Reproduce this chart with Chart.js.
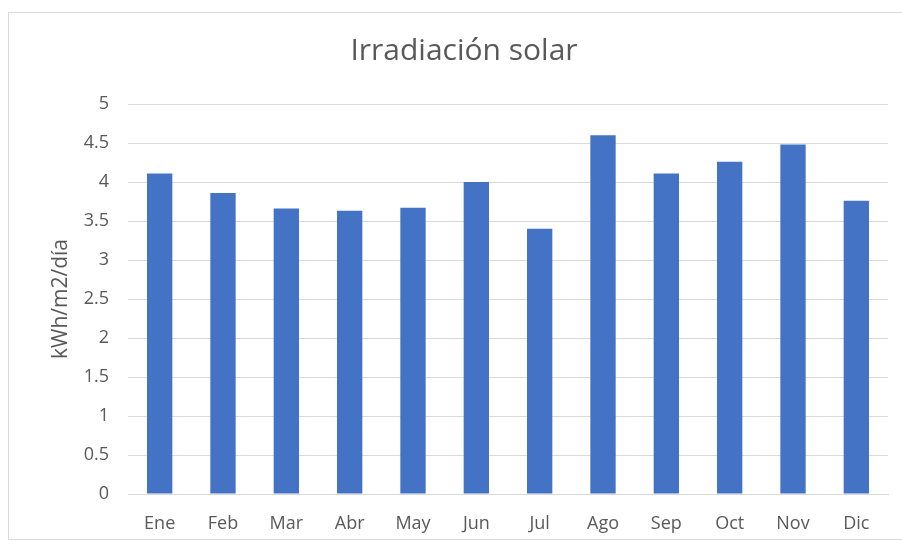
<!DOCTYPE html>
<html>
<head>
<meta charset="utf-8">
<script src="https://cdn.jsdelivr.net/npm/chart.js@4"></script>
<style>
  html, body { margin: 0; padding: 0; background: #fff; }
  #wrap { position: relative; width: 902px; height: 548px; }
  #frame { position: absolute; left: 8px; top: 12px; width: 900px; height: 528px; border: 1px solid #d9d9d9; box-sizing: border-box; }
  canvas { position: absolute; left: 0; top: 0; }
</style>
</head>
<body>
<div id="wrap">
  <div id="frame"></div>
  <canvas id="chart" width="902" height="548"></canvas>
</div>
<script>
// Irradiación solar mensual
const months = ['Ene', 'Feb', 'Mar', 'Abr', 'May', 'Jun', 'Jul', 'Ago', 'Sep', 'Oct', 'Nov', 'Dic'];
const irradiation = [4.11, 3.86, 3.66, 3.63, 3.67, 4.0, 3.4, 4.6, 4.11, 4.26, 4.48, 3.76];

Chart.defaults.font.family = "'Segoe UI', 'Open Sans', 'Noto Sans', sans-serif";
Chart.defaults.color = '#595959';

const ctx = document.getElementById('chart');
new Chart(ctx, {
    type: 'bar',
    data: {
        labels: months,
        datasets: [{
            label: 'Irradiación',
            data: irradiation,
            backgroundColor: '#4472C4',
            barPercentage: 0.4,
            categoryPercentage: 1.0
        }]
    },
    options: {
        responsive: false,
        animation: false,
        layout: { padding: { left: 40, right: 14, top: 0, bottom: 0 } },
        plugins: {
            legend: { display: false },
            tooltip: { enabled: false },
            title: {
                display: true,
                text: 'Irradiación solar',
                font: { size: 30, weight: 'normal' },
                color: '#595959',
                padding: { top: 33, bottom: 35 }
            }
        },
        scales: {
            x: {
                afterFit: (scale) => { scale.height = 54; },
                grid: { display: false, drawTicks: false },
                border: { display: true, color: '#d9d9d9', width: 1 },
                ticks: { font: { size: 18 }, padding: 19, color: '#595959' }
            },
            y: {
                min: 0,
                max: 5,
                afterFit: (scale) => { scale.width = 88; },
                grid: { color: '#d9d9d9', drawTicks: false },
                border: { display: false },
                ticks: {
                    stepSize: 0.5,
                    font: { size: 18 },
                    padding: 19,
                    color: '#595959',
                    callback: (v) => String(v)
                },
                title: {
                    display: true,
                    text: 'kWh/m2/día',
                    font: { size: 21 },
                    color: '#595959',
                    padding: { top: 8, bottom: 0 }
                }
            }
        }
    }
});
</script>
</body>
</html>
